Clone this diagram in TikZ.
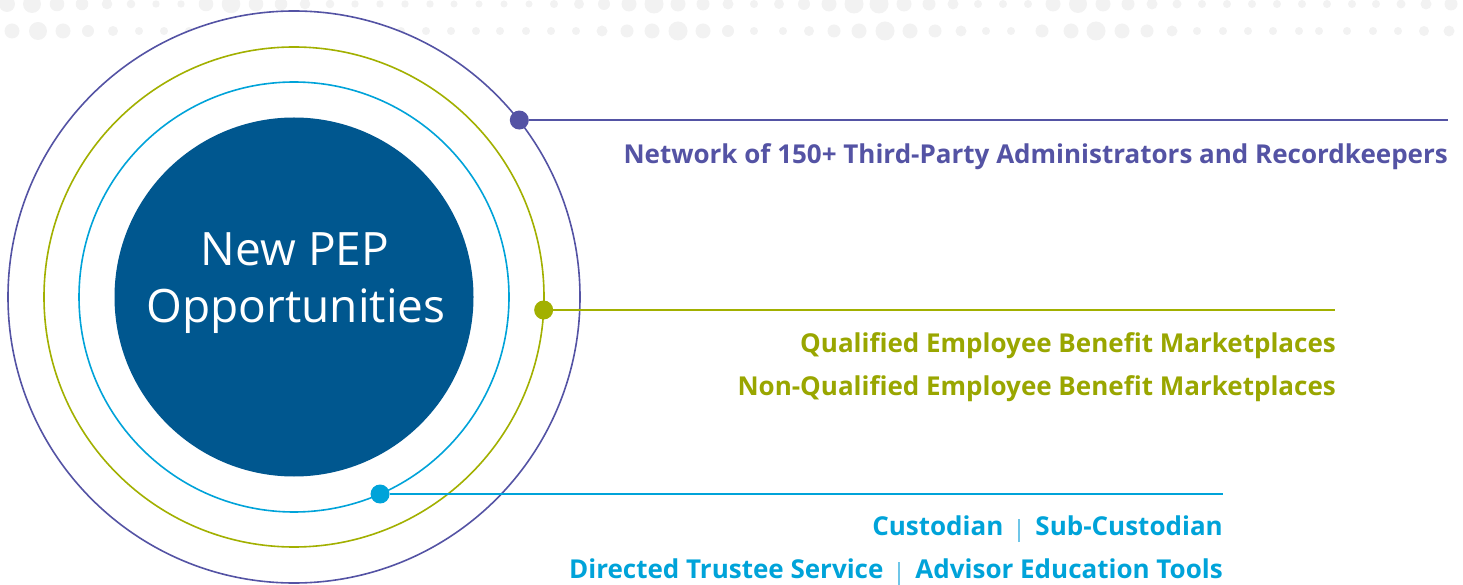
\documentclass[tikz,border=0pt]{standalone}
\usepackage{fontspec}
\setmainfont{Open Sans}
\newfontfamily\labelfont{Open Sans}
\newfontfamily\titlefont{Open Sans}
\usetikzlibrary{calc}

\definecolor{pepPurple}{HTML}{5453A4}
\definecolor{pepOlive}{HTML}{A2B000}
\definecolor{pepOliveText}{HTML}{99A600}
\definecolor{pepCyan}{HTML}{00A3D9}
\definecolor{pepCyanLight}{HTML}{6FC6E8}
\definecolor{pepNavy}{HTML}{00578F}
\definecolor{dotGray}{HTML}{F2F2F2}

% thin vertical divider between two items on one line
\newcommand{\pepdivider}{\hspace{15pt}\textcolor{pepCyanLight}{\rule[-7pt]{2pt}{23pt}}\hspace{15pt}}

\tikzset{
  ring/.style={circle, inner sep=0pt, line width=1.6pt},
  marker/.style={circle, inner sep=0pt, minimum size=19pt},
  link/.style={line width=2pt},
  lbl/.style={inner sep=0pt, anchor=base east, font=\labelfont\bfseries\fontsize{26}{30}\selectfont},
  titletext/.style={inner sep=0pt, anchor=base, text=white, font=\titlefont\fontsize{46}{57}\selectfont},
}

\begin{document}
\begin{tikzpicture}[x=1pt,y=1pt]
\useasboundingbox (0,0) rectangle (1463,584);

% decorative dotted band along the top
\foreach \x/\r in {7/8,32/9,57/7.3,82/6.3,107/5.3,131/4.3,156/3.7,181/3.7,206/7.3,231/9.3,256/7.3,281/6.3,305/5.3,330/4.3,355/3.7,380/3.7,405/3.7,430/3.7,454/3.5,479/3.5,
  504/3.5,529/3.5,554/4,579/5,604/6,629/7.5,654/9.5,678/7.5,703/6.5,728/5.5,754/4,779/5,804/6,829/7.5,854/9.5,879/9.5,904/7.5,929/6.5,953/5.5,978/4,
  1003/4,1028/4,1053/7.5,1078/9,1103/7.5,1128/6.5,1152/5.5,1177/4.5,1202/4,1227/4,1252/4,1277/4,1302/4,1327/4,1352/4,1376/4,1401/4.5,1426/5.5,1451/6.5}
  \fill[dotGray] (\x,580) circle (\r);
\foreach \x/\r in {12/7.5,38/9,63/7.5,88/6,113/5,139/4,164/4,189/4,214/4,239/4,264/4,289/4,314/4,339/4,364/4,389/4,401/4,426/4,451/4,476/4,
  500/4,526/4,551/4,576/4,602/5.5,627/6.5,652/7.5,678/9.5,703/7.5,728/6,754/4,783/4,809/5,834/6.5,859/7.5,885/9.5,910/7.5,935/6.5,961/5.5,986/4,
  1011/4,1042/6.5,1071/7.5,1096/9.5,1122/7.5,1147/6.5,1172/5.5,1197/4,1223/4,1248/4,1273/4,1299/4,1319/4,1347/4,1373/4,1398/4,1424/5,1449/5.5}
  \fill[dotGray] (\x,553) circle (\r);

% concentric rings around the core
\coordinate (C) at (294,287);
\node[ring, draw=pepPurple, fill=white, minimum size=572pt] (outer) at (C) {};
\node[ring, draw=pepOlive, minimum size=500pt] (middle) at (C) {};
\node[ring, draw=pepCyan, minimum size=430pt] (inner) at (C) {};
\node[circle, inner sep=0pt, fill=pepNavy, minimum size=359pt] (core) at (C) {};

\node[titletext] (t1) at (295,318) {New PEP};
\node[titletext] (t2) at (296,261) {Opportunities};

% markers on the rings and their leader lines
\node[marker, fill=pepPurple] (pd) at ($(C)+(38.15:286.5)$) {};
\node[marker, fill=pepOlive] (od) at ($(C)+(-2.98:250)$) {};
\node[marker, fill=pepCyan] (cd) at ($(C)+(-66.4:215)$) {};

\coordinate (pe) at (1448,0);
\coordinate (oe) at (1335,0);
\coordinate (ce) at (1223,0);
\draw[link, draw=pepPurple] (pd) -- (pd -| pe);
\draw[link, draw=pepOlive] (od) -- (od -| oe);
\draw[link, draw=pepCyan] (cd) -- (cd -| ce);

% labels
\node[lbl, text=pepPurple] (l1) at (1448,420) {Network of 150+ Third-Party Administrators and Recordkeepers};
\node[lbl, text=pepOliveText] (l2) at (1336,232) {Qualified Employee Benefit Marketplaces};
\node[lbl, text=pepOliveText] (l3) at (1336,189) {Non-Qualified Employee Benefit Marketplaces};
\node[lbl, text=pepCyan] (l4) at (1223,49) {Custodian\pepdivider Sub-Custodian};
\node[lbl, text=pepCyan] (l5) at (1223,6) {Directed Trustee Service\pepdivider Advisor Education Tools};
\end{tikzpicture}
\end{document}
